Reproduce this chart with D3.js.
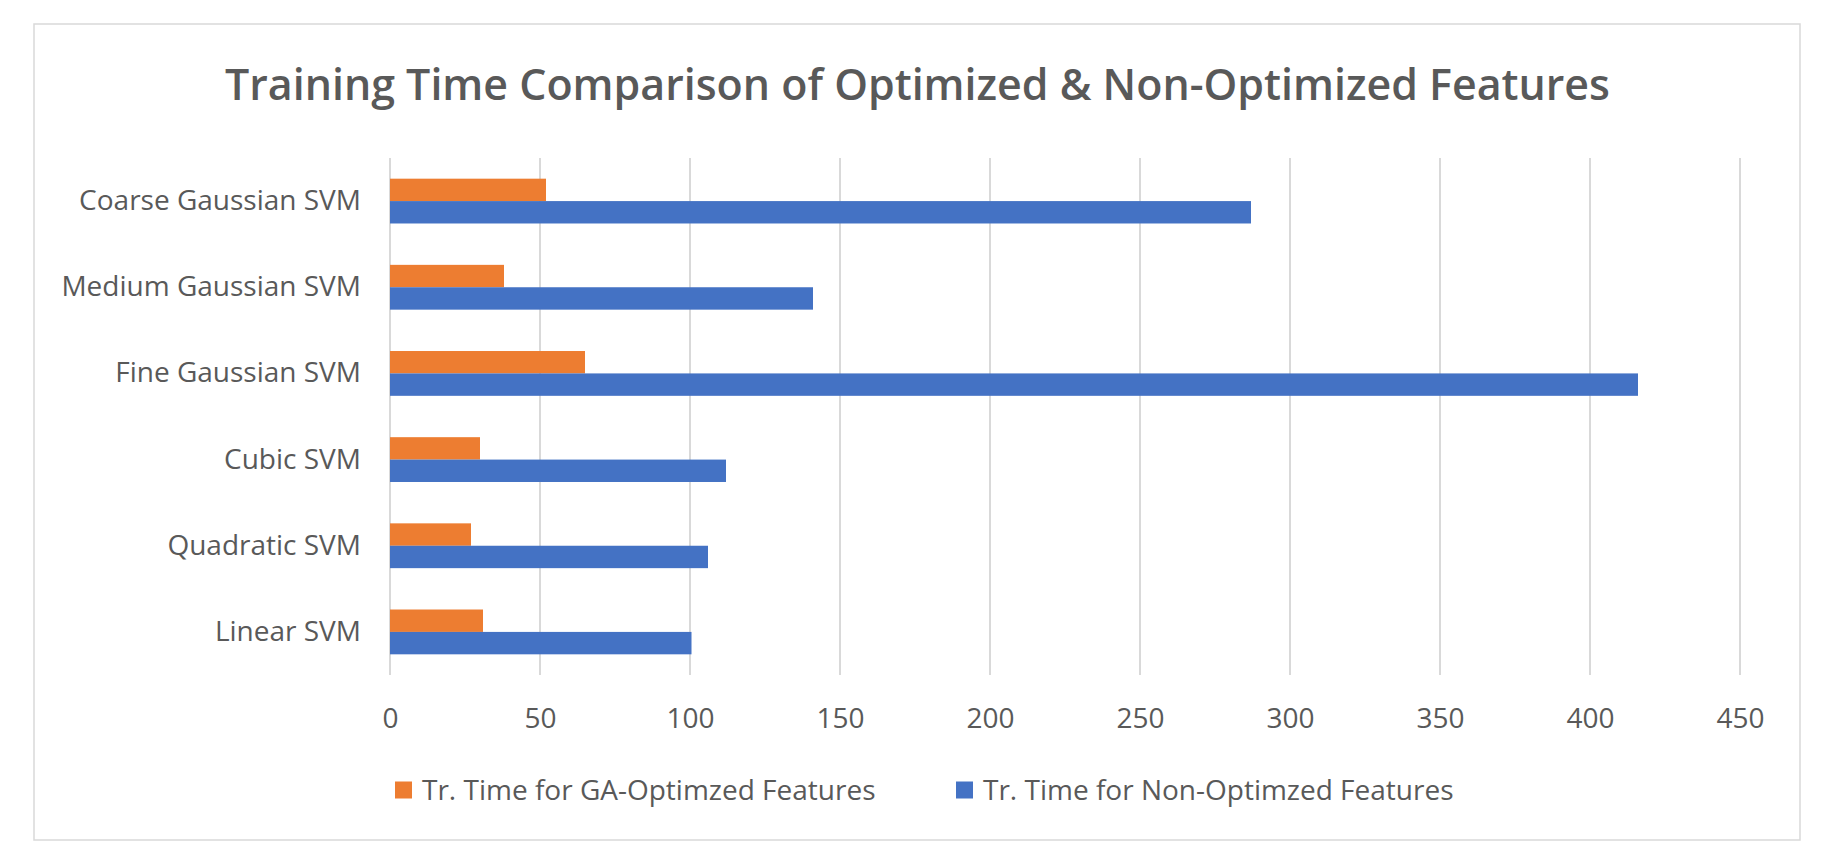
<!DOCTYPE html>
<html>
<head>
<meta charset="utf-8">
<title>Training Time Comparison</title>
<script src="https://cdn.jsdelivr.net/npm/d3@7"></script>
<style>
  body { margin: 0; background: #fff; }
  text { font-family: "Open Sans", "Noto Sans", sans-serif; }
</style>
</head>
<body>
<div id="chart"></div>
<script>
// data, top to bottom as drawn
var categories = ["Coarse Gaussian SVM", "Medium Gaussian SVM", "Fine Gaussian SVM", "Cubic SVM", "Quadratic SVM", "Linear SVM"];
var gaOptimized = [52, 38, 65, 30, 27, 31];
var nonOptimized = [287, 141, 416, 112, 106, 100.5];
var seriesNames = ["Tr. Time for GA-Optimzed Features", "Tr. Time for Non-Optimzed Features"];
var xTicks = [0, 50, 100, 150, 200, 250, 300, 350, 400, 450];

var W = 1830, H = 867;
var colors = ["#ED7D31", "#4472C4"];

var svg = d3.select("#chart").append("svg")
  .attr("width", W)
  .attr("height", H);

// outer frame
svg.append("rect")
  .attr("x", 34).attr("y", 24)
  .attr("width", 1766).attr("height", 816)
  .attr("fill", "#fff")
  .attr("stroke", "#d9d9d9")
  .attr("stroke-width", 1.5);

// title
svg.append("text")
  .attr("x", 225).attr("y", 100)
  .attr("textLength", 1385)
  .attr("lengthAdjust", "spacingAndGlyphs")
  .attr("font-size", 44)
  .attr("font-weight", 600)
  .attr("fill", "#595959")
  .text("Training Time Comparison of Optimized & Non-Optimized Features");

// scales
var x = d3.scaleLinear().domain([0, 450]).range([390, 1740]);
var y = d3.scaleBand().domain(categories).range([158, 675])
  .paddingInner(0.48).paddingOuter(0.24);
var sub = d3.scaleBand().domain([0, 1]).range([0, y.bandwidth()]);

// gridlines
svg.append("g").selectAll("line").data(xTicks).enter().append("line")
  .attr("x1", function(d) { return x(d); })
  .attr("x2", function(d) { return x(d); })
  .attr("y1", 158).attr("y2", 675)
  .attr("stroke", "#d9d9d9")
  .attr("stroke-width", 2);

// x axis labels
var xAxis = d3.axisBottom(x).tickValues(xTicks).tickSize(0).tickPadding(0);
var gx = svg.append("g").attr("transform", "translate(0,708)").call(xAxis);
gx.select(".domain").remove();
gx.selectAll("text")
  .attr("dy", "0.71em")
  .attr("font-size", 28)
  .attr("font-family", null)
  .attr("fill", "#595959");

// category labels
var yAxis = d3.axisLeft(y).tickSize(0).tickPadding(0);
var gy = svg.append("g").attr("transform", "translate(361,0)").call(yAxis);
gy.select(".domain").remove();
gy.selectAll("text")
  .attr("font-size", 28)
  .attr("font-family", null)
  .attr("fill", "#595959");

// bars
var series = [gaOptimized, nonOptimized];
series.forEach(function(vals, s) {
  svg.append("g").selectAll("rect").data(vals).enter().append("rect")
    .attr("x", x(0))
    .attr("y", function(d, i) { return y(categories[i]) + sub(s); })
    .attr("width", function(d) { return x(d) - x(0); })
    .attr("height", sub.bandwidth())
    .attr("fill", colors[s]);
});

// legend
var legendX = [395, 956];
seriesNames.forEach(function(name, s) {
  var g = svg.append("g").attr("transform", "translate(" + legendX[s] + ",790)");
  g.append("rect")
    .attr("x", 0).attr("y", -8.5)
    .attr("width", 17).attr("height", 17)
    .attr("fill", colors[s]);
  g.append("text")
    .attr("x", 27).attr("y", 0)
    .attr("dy", "0.36em")
    .attr("font-size", 28)
    .attr("fill", "#595959")
    .text(name);
});
</script>
</body>
</html>
